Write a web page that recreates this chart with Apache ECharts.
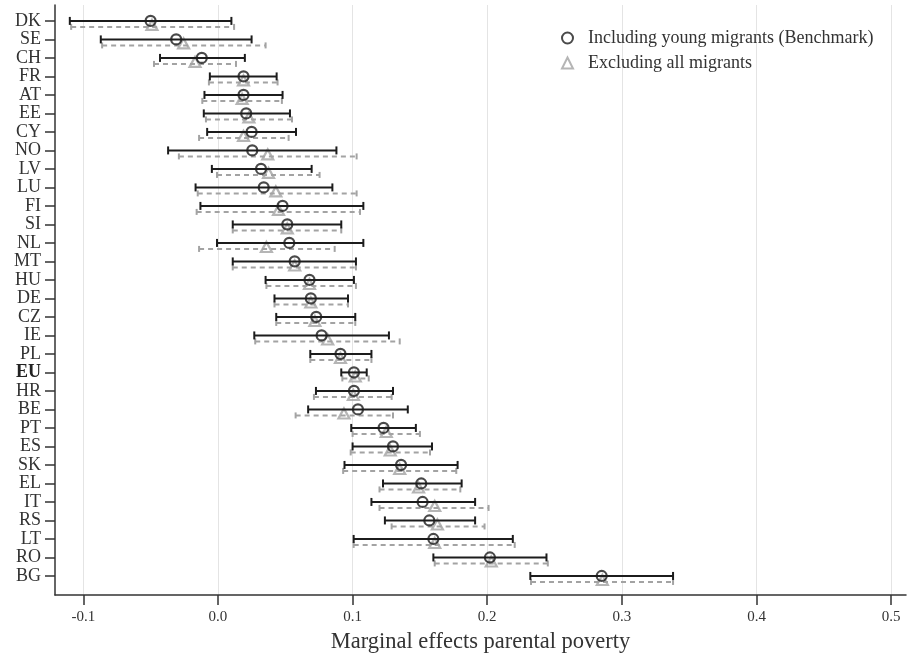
<!DOCTYPE html>
<html>
<head>
<meta charset="utf-8">
<script src="https://cdn.jsdelivr.net/npm/echarts@6/dist/echarts.min.js"></script>
<style>html,body{margin:0;padding:0;background:#fff}#c{width:908px;height:657px}</style>
</head>
<body>
<div id="c"></div>
<script>
const categories = ['DK','SE','CH','FR','AT','EE','CY','NO','LV','LU','FI','SI','NL','MT','HU','DE','CZ','IE','PL','EU','HR','BE','PT','ES','SK','EL','IT','RS','LT','RO','BG'];

const benchEst = [-0.050,-0.031,-0.012,0.019,0.019,0.021,0.025,0.0255,0.032,0.034,0.048,0.0515,0.053,0.057,0.068,0.069,0.073,0.077,0.091,0.101,0.101,0.104,0.123,0.130,0.136,0.151,0.152,0.157,0.160,0.202,0.285];
const benchLo  = [-0.110,-0.087,-0.043,-0.006,-0.010,-0.0105,-0.008,-0.037,-0.0045,-0.0166,-0.013,0.011,-0.0007,0.011,0.0354,0.042,0.0433,0.027,0.0686,0.0916,0.0728,0.067,0.099,0.100,0.094,0.1226,0.114,0.124,0.1008,0.160,0.232];
const benchHi  = [0.010,0.025,0.020,0.0436,0.048,0.0535,0.058,0.088,0.0696,0.085,0.108,0.0916,0.108,0.1025,0.101,0.0966,0.102,0.127,0.114,0.1105,0.130,0.141,0.147,0.159,0.178,0.181,0.191,0.191,0.219,0.244,0.338];

const exclEst = [-0.049,-0.0255,-0.017,0.019,0.018,0.023,0.019,0.037,0.0376,0.043,0.045,0.0515,0.036,0.057,0.068,0.069,0.072,0.0815,0.091,0.102,0.1006,0.0936,0.125,0.128,0.135,0.149,0.161,0.163,0.161,0.203,0.2855];
const exclLo  = [-0.109,-0.086,-0.0475,-0.0067,-0.0116,-0.0089,-0.014,-0.029,-0.0007,-0.015,-0.0158,0.011,-0.014,0.011,0.036,0.042,0.0433,0.0277,0.0686,0.0924,0.0713,0.0577,0.100,0.0986,0.093,0.120,0.120,0.129,0.1008,0.161,0.2325];
const exclHi  = [0.012,0.0354,0.0134,0.0443,0.0475,0.055,0.0525,0.103,0.0755,0.103,0.1055,0.0916,0.0867,0.1025,0.1025,0.0966,0.102,0.135,0.114,0.112,0.129,0.130,0.150,0.1575,0.177,0.180,0.201,0.198,0.2204,0.245,0.338];

const xTicks = [-0.1,0,0.1,0.2,0.3,0.4,0.5];

const FONT = "'Liberation Serif', 'DejaVu Serif', serif";
const BLACK = '#1c1c1c';
const GRAY = '#a3a3a3';
const yIdx = categories.map((c,i)=>i);

function barRender(color, dashed, dy, cap) {
  return function (params, api) {
    const lo = api.coord([api.value(0), api.value(2)]);
    const hi = api.coord([api.value(1), api.value(2)]);
    const y = lo[1] + dy;
    const style = {stroke: color, lineWidth: 2, lineDash: dashed ? [5,4] : null};
    return {
      type: 'group',
      children: [
        {type:'line', shape:{x1:lo[0], y1:y, x2:hi[0], y2:y}, style: style},
        {type:'line', shape:{x1:lo[0], y1:y-cap, x2:lo[0], y2:y+cap}, style:{stroke:color, lineWidth:2}},
        {type:'line', shape:{x1:hi[0], y1:y-cap, x2:hi[0], y2:y+cap}, style:{stroke:color, lineWidth:2}}
      ]
    };
  };
}

const chart = echarts.init(document.getElementById('c'), null, {renderer:'canvas'});
chart.setOption({
  animation: false,
  backgroundColor: '#fff',
  textStyle: {fontFamily: FONT},
  grid: {left: 55, right: 2, top: 5, bottom: 62, outerBoundsMode: 'none', containLabel: false},
  legend: {
    orient: 'vertical',
    left: 556, top: 24,
    itemWidth: 11, itemHeight: 11, itemGap: 7,
    formatter: name => '{g|}' + name,
    textStyle: {fontFamily: FONT, fontSize: 18, color: '#333', rich: {g: {width: 10}}},
    data: ['Including young migrants (Benchmark)', 'Excluding all migrants']
  },
  xAxis: {
    type: 'value',
    min: -0.121, max: 0.511,
    name: 'Marginal effects parental poverty',
    nameLocation: 'middle',
    nameGap: 36,
    nameTextStyle: {fontFamily: FONT, fontSize: 22.5, color: '#333'},
    axisLine: {show: true, onZero: false, lineStyle: {color: '#333', width: 1.5}},
    axisTick: {show: true, length: 10, customValues: xTicks, lineStyle: {color: '#333', width: 1.5}},
    axisLabel: {customValues: xTicks, fontFamily: FONT, fontSize: 15, color: '#333', margin: 15,
      formatter: v => v.toFixed(1)},
    splitLine: {show: true, lineStyle: {color: '#e4e4e4', width: 1}}
  },
  yAxis: {
    type: 'value',
    inverse: true,
    min: -0.86, max: 31.03,
    axisLine: {show: true, onZero: false, lineStyle: {color: '#333', width: 1.5}},
    axisTick: {show: true, length: 10, customValues: yIdx, lineStyle: {color: '#333', width: 1.5}},
    axisLabel: {customValues: yIdx, fontFamily: FONT, fontSize: 18, color: '#333', margin: 14,
      formatter: v => categories[v] === 'EU' ? '{b|EU}' : categories[v],
      rich: {b: {fontFamily: FONT, fontSize: 18, fontWeight: 'bold', color: '#222'}}},
    splitLine: {show: false}
  },
  series: [
    {
      type: 'custom', name: 'exclBars', silent: true,
      renderItem: barRender(GRAY, true, 6, 3),
      encode: {x: [0,1], y: 2},
      data: categories.map((c,i)=>[exclLo[i], exclHi[i], i]), z: 2
    },
    {
      type: 'scatter', name: 'Excluding all migrants',
      symbol: 'triangle', symbolSize: [11, 10], symbolOffset: [0, 4],
      itemStyle: {color: 'rgba(0,0,0,0)', borderColor: GRAY, borderWidth: 2.2},
      data: categories.map((c,i)=>[exclEst[i], i]), z: 3
    },
    {
      type: 'custom', name: 'benchBars', silent: true,
      renderItem: barRender(BLACK, false, 0, 4),
      encode: {x: [0,1], y: 2},
      data: categories.map((c,i)=>[benchLo[i], benchHi[i], i]), z: 4
    },
    {
      type: 'scatter', name: 'Including young migrants (Benchmark)',
      symbol: 'circle', symbolSize: 10,
      itemStyle: {color: 'rgba(0,0,0,0)', borderColor: BLACK, borderWidth: 2.2},
      data: categories.map((c,i)=>[benchEst[i], i]), z: 5
    }
  ]
});
</script>
</body>
</html>
